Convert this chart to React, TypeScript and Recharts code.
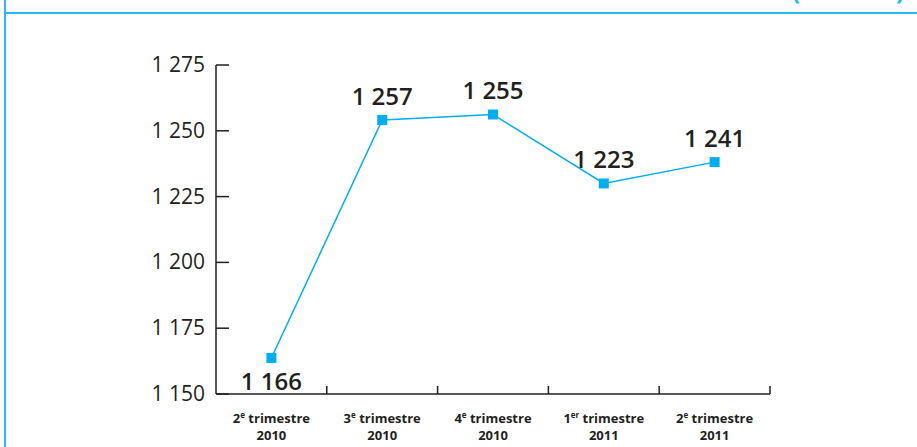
import React from "react";
import { LineChart, Line, XAxis, YAxis, LabelList } from "recharts";

// Categories (quarter number, ordinal suffix, year)
const quarterNumbers = ["2", "3", "4", "1", "2"];
const quarterSuffixes = ["e", "e", "e", "er", "e"];
const quarterYears = ["2010", "2010", "2010", "2011", "2011"];

// Plotted positions of the markers
const plottedValues = [1163.7, 1254.1, 1256.2, 1230.0, 1238.1];
// Printed value labels
const valueLabels = [1166, 1257, 1255, 1223, 1241];

// Y axis ticks
const yTicks = [1150, 1175, 1200, 1225, 1250, 1275];

const BLUE = "#00aeef";
const FRAME = "#29b9ec";
const DARK = "#231f20";
const FONT = "'Open Sans', 'DejaVu Sans', sans-serif";

const fmt = (v: number) => {
  const th = Math.floor(v / 1000);
  const rest = String(Math.round(v % 1000)).padStart(3, "0");
  return th > 0 ? `${th} ${rest}` : rest;
};

const data = plottedValues.map((v, i) => ({
  pos: i + 0.5,
  value: v,
  label: valueLabels[i],
}));

const xTicks: number[] = [];
for (let i = 0; i <= quarterNumbers.length; i++) {
  xTicks.push(i);
  if (i < quarterNumbers.length) xTicks.push(i + 0.5);
}

const YTick = (props: any) => {
  const { x, y, payload } = props;
  return (
    <g>
      <line x1={x} x2={x + 13} y1={y} y2={y} stroke={DARK} strokeWidth={1.5} />
      <text
        x={x - 11}
        y={y}
        dy={7}
        textAnchor="end"
        fontFamily={FONT}
        fontSize={21}
        fill={DARK}
      >
        {fmt(payload.value)}
      </text>
    </g>
  );
};

const XTick = (props: any) => {
  const { x, y, payload } = props;
  const v = payload.value as number;
  if (Number.isInteger(v)) {
    if (v === 0) return <g />;
    return <line x1={x} x2={x} y1={y} y2={y - 8} stroke={DARK} strokeWidth={1.5} />;
  }
  const i = Math.floor(v);
  return (
    <g>
      <text
        x={x}
        y={y + 29}
        textAnchor="middle"
        fontFamily={FONT}
        fontSize={13}
        fontWeight={700}
        fill={DARK}
      >
        {quarterNumbers[i]}
        <tspan fontSize={8} dy={-5}>
          {quarterSuffixes[i]}
        </tspan>
        <tspan dy={5}>{" trimestre"}</tspan>
      </text>
      <text
        x={x}
        y={y + 46}
        textAnchor="middle"
        fontFamily={FONT}
        fontSize={13}
        fontWeight={700}
        fill={DARK}
      >
        {quarterYears[i]}
      </text>
    </g>
  );
};

const SquareDot = (props: any) => {
  const { cx, cy, index } = props;
  return <rect key={`d${index}`} x={cx - 5} y={cy - 5} width={10} height={10} fill={BLUE} />;
};

const ValueLabel = (props: any) => {
  const { x, y, value, index } = props;
  const below = index === 0;
  return (
    <text
      x={x}
      y={below ? y + 32 : y - 15}
      textAnchor="middle"
      fontFamily={FONT}
      fontSize={24}
      fontWeight={600}
      fill={DARK}
    >
      {fmt(value)}
    </text>
  );
};

export default function App() {
  return (
    <div
      style={{
        position: "fixed",
        left: 0,
        top: 0,
        width: 917,
        height: 447,
        overflow: "hidden",
        background: "#fff",
      }}
    >
      <div style={{ position: "absolute", left: 4, top: 0, width: 2, height: 447, background: FRAME }} />
      <div style={{ position: "absolute", left: 4, top: 12, width: 913, height: 2, background: FRAME }} />
      <span
        style={{
          position: "absolute",
          left: 792,
          top: -24,
          fontFamily: FONT,
          fontWeight: 700,
          fontSize: 24,
          lineHeight: "30px",
          color: FRAME,
        }}
      >
        (
      </span>
      <span
        style={{
          position: "absolute",
          left: 896,
          top: -24,
          fontFamily: FONT,
          fontWeight: 700,
          fontSize: 24,
          lineHeight: "30px",
          color: FRAME,
        }}
      >
        )
      </span>
      <div style={{ position: "absolute", left: 0, top: 0 }}>
        <LineChart
          width={917}
          height={447}
          data={data}
          margin={{ top: 65, right: 147, left: 0, bottom: 0 }}
        >
          <XAxis
            type="number"
            dataKey="pos"
            domain={[0, quarterNumbers.length]}
            ticks={xTicks}
            interval={0}
            allowDecimals
            tickLine={false}
            tickSize={0}
            tickMargin={0}
            height={53}
            axisLine={{ stroke: DARK, strokeWidth: 1.5 }}
            tick={<XTick />}
          />
          <YAxis
            type="number"
            domain={[yTicks[0], yTicks[yTicks.length - 1]]}
            ticks={yTicks}
            interval={0}
            width={216}
            tickLine={false}
            tickSize={0}
            tickMargin={0}
            axisLine={{ stroke: DARK, strokeWidth: 1.5 }}
            tick={<YTick />}
          />
          <Line
            type="linear"
            dataKey="value"
            stroke={BLUE}
            strokeWidth={1.5}
            dot={<SquareDot />}
            activeDot={false}
            isAnimationActive={false}
          >
            <LabelList dataKey="label" content={<ValueLabel />} />
          </Line>
        </LineChart>
      </div>
    </div>
  );
}
